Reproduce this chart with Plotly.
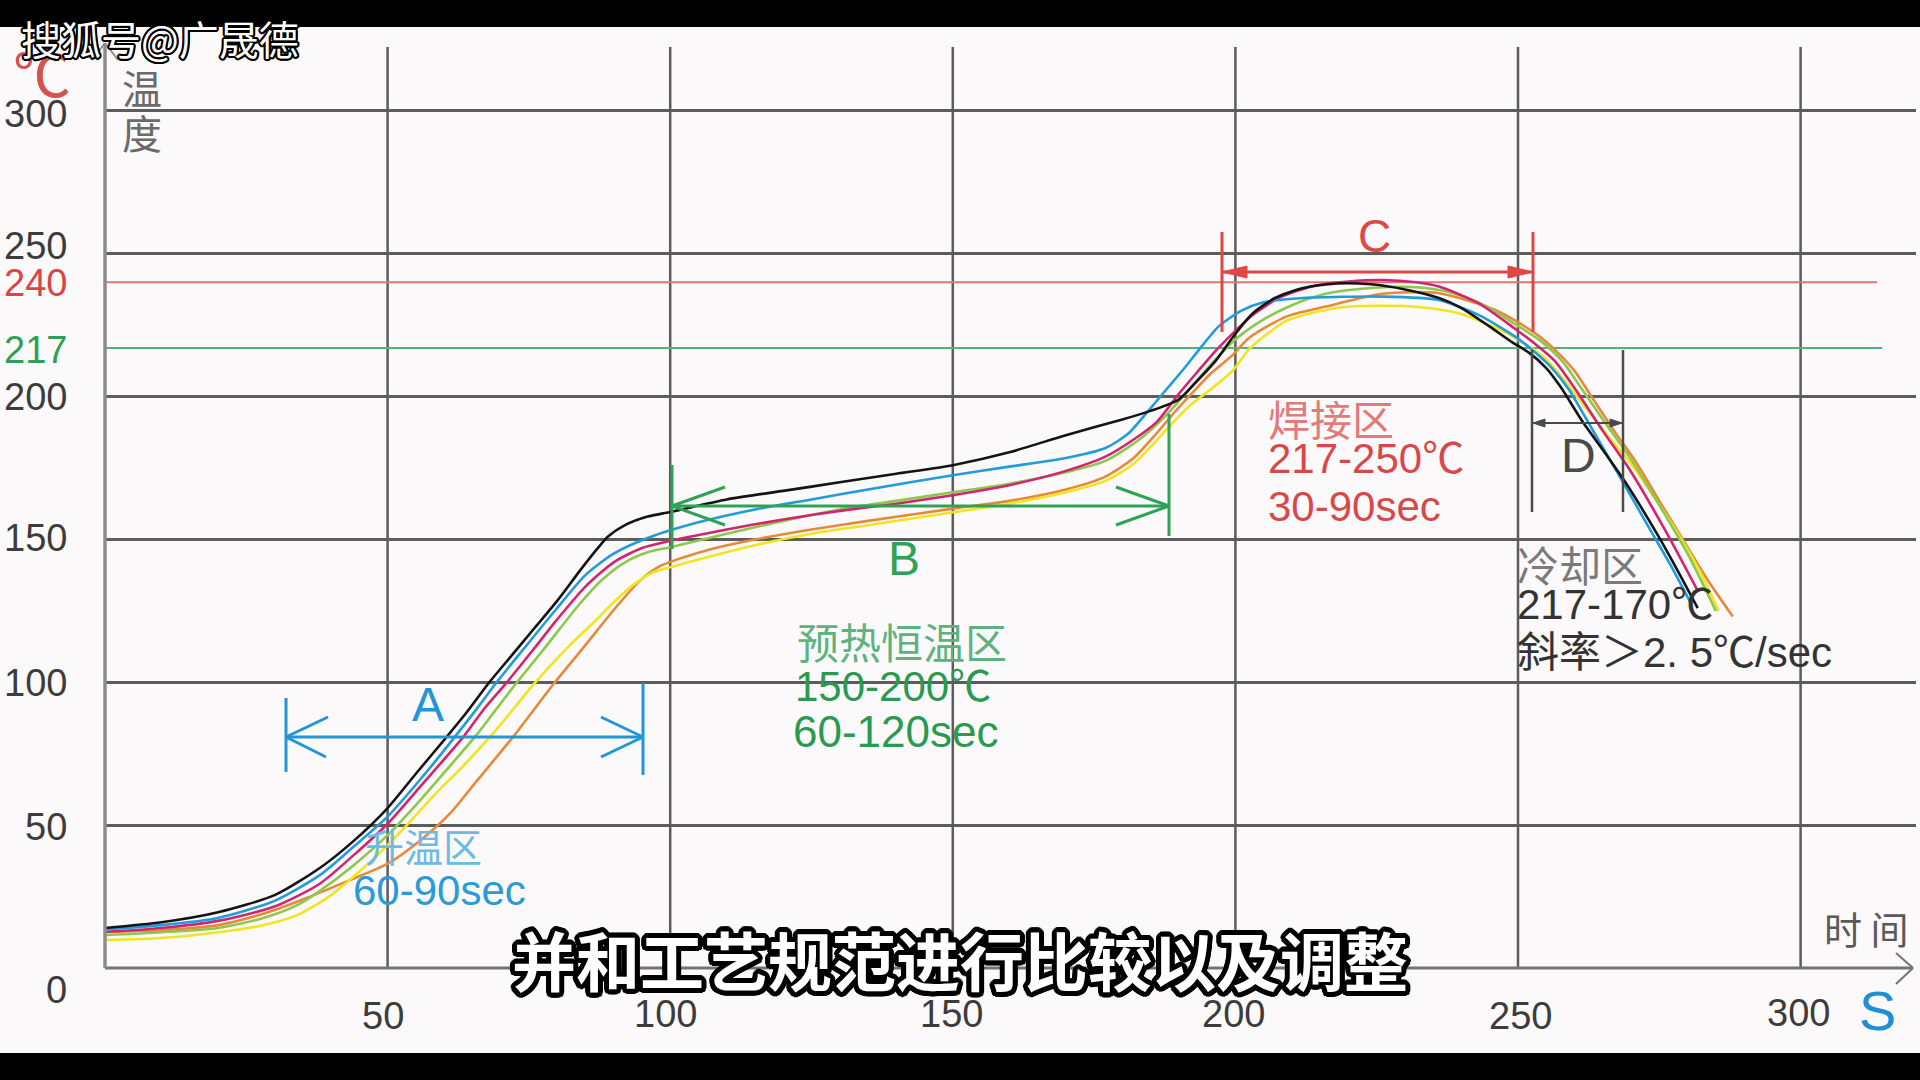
import math
import plotly.graph_objects as go

# ---------------- data (time s -> temperature C) ----------------
black_t = [0, 10, 20, 30, 38, 44, 50, 55, 60.5, 64, 68, 72, 76, 80, 84, 87, 89, 92, 96, 100,
           110, 120, 130, 140, 150, 160, 170, 180, 185, 190, 193, 196.5, 200, 203, 207, 212, 218,
           224, 230, 236, 240, 245, 249, 252, 255, 257.5, 261.5, 265.5, 269, 274.5, 278, 281.8]
black_T = [14, 16, 19.5, 25.5, 35, 44.5, 56, 68, 81, 89.5, 100, 109.5, 119, 128.5, 139, 146.5, 151,
           155, 158, 159.6, 164, 167, 170, 173, 176, 180.5, 186.5, 192, 195, 199, 205, 212.5, 222,
           229, 234.5, 238, 239.6, 239.3, 237.5, 234.5, 231, 224.5, 219, 215.3, 210, 203.5, 191,
           180, 170, 152.3, 140, 126]

blue_t = [0, 10, 20, 30, 38, 44, 50, 56, 61.9, 65.5, 69.3, 74, 80, 85, 90, 96, 105, 115, 125, 135,
          150, 160, 170, 177, 181, 185, 188, 191, 194, 197, 201, 205, 212, 226, 236, 243, 249.5,
          253, 256, 259, 263, 268, 273.5, 277, 280.5]
blue_T = [13.5, 15, 17.5, 23.5, 32.5, 42.5, 53, 66.5, 80.9, 90, 100, 111.5, 126, 137.5, 145, 150.5,
          156, 160.5, 164, 167.5, 172.5, 175.5, 178.5, 182, 187, 196, 203, 210, 217.5, 224.5, 230,
          233, 234.5, 235, 233.8, 228.6, 221, 215.5, 210, 202.5, 189, 172, 153, 141, 128]

pink_t = [0, 10, 20, 30, 38, 44, 50, 56, 63.4, 67, 71.1, 76, 80, 85, 90, 95, 100, 110, 120, 130,
          140, 150, 160, 170, 177, 182, 186, 190, 193, 196.5, 200, 203, 208, 214, 220, 226, 232,
          236, 243, 249.7, 253, 256.5, 260, 265, 269.8, 276.3, 281.8]
pink_T = [12.6, 14, 16.5, 21.5, 29.5, 39.5, 50.5, 64, 80.9, 90.5, 100, 112, 122, 133.5, 142, 147,
          149.5, 153.5, 157, 160, 162.5, 165.5, 169, 174, 179, 185, 191, 201, 208, 216, 223, 228.5,
          234.8, 238.8, 240.3, 240.8, 240, 238.5, 232.7, 223.4, 218.5, 212.5, 203, 188, 174.3,
          152.3, 132]

green_t = [0, 10, 20, 28, 34, 38, 44, 50, 55, 60.5, 65.7, 69, 72.9, 78, 84, 88, 92, 96, 100, 110,
           120, 130, 140, 150, 160, 170, 177, 183, 188, 192, 196, 200, 205, 210, 216, 224, 232, 238,
           244, 249, 254, 258, 261, 265, 270, 275, 280, 285]
green_T = [11.5, 12.5, 14, 17.5, 22, 27, 36, 46.5, 57, 69.5, 81.5, 90, 100, 112.5, 127.5, 136, 142,
           145.5, 147.3, 152, 156.5, 160.5, 163.5, 166.5, 169.5, 173.5, 177.5, 185, 194, 203, 212,
           220, 227, 232, 236, 238, 238.3, 236.5, 232, 226, 219.5, 212, 203.5, 192, 178, 162, 145, 125]

orange_t = [0, 10, 20, 28, 35, 43, 50, 56, 61, 66, 72.2, 79.6, 85, 90, 94.6, 98, 102, 108, 115,
            125, 135, 150, 160, 170, 177, 182, 186, 189, 192, 195.6, 199.5, 202.4, 209, 216, 226,
            236, 246, 253, 257, 260, 263, 267, 271, 275, 279.2, 283.5, 288]
orange_T = [12.6, 13.2, 15, 19, 24, 30.5, 36.5, 45, 54, 66, 80.9, 100, 113, 125.3, 135.5, 140.5,
            143.5, 147, 150, 153.5, 156.5, 160.8, 163.5, 167.5, 172, 178.5, 187, 194, 200.5, 208,
            214.5, 220.5, 228, 231.5, 236, 236.2, 230.3, 222.2, 215.5, 209, 200, 188, 176.7, 163.5,
            149.8, 136, 123]

yellow_t = [0, 10, 20, 28, 34, 40, 46, 50, 53.4, 58, 64, 68.6, 72, 75.7, 82, 87, 90, 93.4, 97,
            100.5, 105, 115, 125, 135, 150, 160, 170, 177, 182, 186, 189, 192, 195.6, 199.5, 202.4,
            206, 209, 214, 219, 226, 232.8, 239.5, 245, 250, 255, 258.5, 262, 266, 270, 274, 278,
            282, 285.5]
yellow_T = [9.8, 10.5, 12.5, 15, 18.5, 25.5, 35.5, 43, 50, 60, 72, 82, 90, 99, 112.5, 122, 128,
            134, 138.5, 140.5, 143, 148, 152, 155, 159.5, 162.5, 166.5, 170.5, 176.5, 184.5, 191,
            197, 202.5, 209, 216.5, 222.5, 226.5, 229.5, 231.3, 231.8, 231.3, 229.2, 225, 220, 213,
            205, 196, 186, 176.5, 165, 153, 139.5, 125]

x_ticks = [50, 100, 150, 200, 250, 300]
y_ticks = [0, 50, 100, 150, 200, 250, 300]
limit_red = 240
limit_green = 217

# ---------------- geometry helpers ----------------
W, H = 1920, 1080
L, R, T, B = 105, 4, 27, 112
PW, PH = W - L - R, H - T - B
XS, YS = 5.652, 2.857
XMAX, YMAX = PW / XS, PH / YS


def dx(px):
    return (px - L) / XS


def dy(py):
    return (H - B - py) / YS


def pxp(px):
    return (px - L) / PW


def pyp(py):
    return (H - B - py) / PH


def outline(r, color, n=16):
    parts = []
    for k in range(n):
        a = 2 * math.pi * k / n
        parts.append(f"{r*math.cos(a):.1f}px {r*math.sin(a):.1f}px 0 {color}")
    return ", ".join(parts)


BG = "#fcf9fb"
GRID = "#5c5c5c"
LAT = "Liberation Sans, Arial, Noto Sans CJK SC, sans-serif"
CJK = "Noto Sans CJK SC, sans-serif"

fig = go.Figure()
series = [
    (orange_t, orange_T, "#e8893a"),
    (yellow_t, yellow_T, "#f0e51e"),
    (green_t, green_T, "#8cc84b"),
    (pink_t, pink_T, "#d5246f"),
    (blue_t, blue_T, "#1f9ddb"),
    (black_t, black_T, "#141414"),
]
for t, v, c in series:
    fig.add_trace(go.Scatter(x=t, y=v, mode="lines",
                             line=dict(color=c, width=2.6, shape="spline", smoothing=0.7),
                             hoverinfo="skip"))

shapes = []
# vertical grid lines
for v in x_ticks:
    shapes.append(dict(type="line", xref="x", yref="y", x0=v, x1=v, y0=0, y1=dy(47),
                       line=dict(color=GRID, width=2.5), layer="below"))
# limit lines
shapes.append(dict(type="line", xref="x", yref="y", x0=0, x1=dx(1877), y0=limit_red, y1=limit_red,
                   line=dict(color="#e57373", width=2), layer="below"))
shapes.append(dict(type="line", xref="x", yref="y", x0=0, x1=dx(1882), y0=limit_green, y1=limit_green,
                   line=dict(color="#4fb477", width=2), layer="below"))
# axes with arrows (paper coords)
AX = "#737373"
shapes += [
    dict(type="line", xref="paper", yref="paper", x0=0, x1=pxp(1913), y0=0, y1=0, line=dict(color=AX, width=3)),
    dict(type="line", xref="paper", yref="paper", x0=pxp(1913), x1=pxp(1896), y0=0, y1=pyp(953), line=dict(color=AX, width=2)),
    dict(type="line", xref="paper", yref="paper", x0=pxp(1913), x1=pxp(1896), y0=0, y1=pyp(984), line=dict(color=AX, width=2)),
    dict(type="line", xref="paper", yref="paper", x0=0, x1=0, y0=0, y1=pyp(43), line=dict(color="#8c8c8c", width=3.5)),
    dict(type="line", xref="paper", yref="paper", x0=0, x1=pxp(118), y0=pyp(43), y1=pyp(60), line=dict(color="#8c8c8c", width=2)),
    dict(type="line", xref="paper", yref="paper", x0=0, x1=pxp(92), y0=pyp(43), y1=pyp(60), line=dict(color="#8c8c8c", width=2)),
]


def seg(x0, y0, x1, y1, color, w):
    return dict(type="line", xref="x", yref="y", x0=x0, y0=y0, x1=x1, y1=y1, line=dict(color=color, width=w))


def tri(pts, color):
    p = "M " + " L ".join(f"{a},{b}" for a, b in pts) + " Z"
    return dict(type="path", xref="x", yref="y", path=p, fillcolor=color, line=dict(color=color, width=1))


# A bracket (blue)
CA = "#2196d6"
ya = dy(737)
shapes += [
    seg(dx(286), ya, dx(643), ya, CA, 3),
    seg(dx(286), dy(698), dx(286), dy(772), CA, 3),
    seg(dx(643), dy(683), dx(643), dy(775), CA, 3),
    seg(dx(286), ya, dx(328), dy(717), CA, 3),
    seg(dx(286), ya, dx(326), dy(757), CA, 3),
    seg(dx(643), ya, dx(601), dy(717), CA, 3),
    seg(dx(643), ya, dx(601), dy(757), CA, 3),
]
# B bracket (green)
CB = "#2ea357"
yb = dy(506)
shapes += [
    seg(dx(672), yb, dx(1169), yb, CB, 3),
    seg(dx(672), dy(465), dx(672), dy(549), CB, 3),
    seg(dx(1169), dy(414), dx(1169), dy(536), CB, 3),
    seg(dx(672), yb, dx(725), dy(487), CB, 3),
    seg(dx(672), yb, dx(725), dy(525), CB, 3),
    seg(dx(1169), yb, dx(1116), dy(487), CB, 3),
    seg(dx(1169), yb, dx(1116), dy(525), CB, 3),
]
# C bracket (red)
CC = "#e04646"
yc = dy(272)
shapes += [
    seg(dx(1222), yc, dx(1533), yc, CC, 3),
    seg(dx(1222), dy(232), dx(1222), dy(332), CC, 3),
    seg(dx(1533), dy(232), dx(1533), dy(332), CC, 3),
    tri([(dx(1222), yc), (dx(1247), dy(266)), (dx(1247), dy(278))], CC),
    tri([(dx(1533), yc), (dx(1508), dy(266)), (dx(1508), dy(278))], CC),
]
# D bracket (dark grey)
CD = "#4a4a4a"
yd = dy(423)
shapes += [
    seg(dx(1532), yd, dx(1623), yd, CD, 2.2),
    seg(dx(1532), dy(350), dx(1532), dy(512), CD, 2.5),
    seg(dx(1623), dy(350), dx(1623), dy(512), CD, 2.5),
    tri([(dx(1533), yd), (dx(1545), dy(419)), (dx(1545), dy(427))], CD),
    tri([(dx(1622), yd), (dx(1610), dy(419)), (dx(1610), dy(427))], CD),
]
# black letterbox bars
shapes += [
    dict(type="rect", xref="paper", yref="paper", x0=pxp(0), x1=pxp(1920), y0=pyp(27), y1=pyp(0),
         fillcolor="#000000", line=dict(width=0), layer="above"),
    dict(type="rect", xref="paper", yref="paper", x0=pxp(0), x1=pxp(1920), y0=pyp(1080), y1=pyp(1053),
         fillcolor="#000000", line=dict(width=0), layer="above"),
]

ann = []


def text(s, cx, cy, size, color, family=LAT, xanchor="center", weight="normal", shadow=None):
    f = dict(size=size, color=color, family=family, weight=weight)
    if shadow:
        f["shadow"] = shadow
    ann.append(dict(text=s, xref="paper", yref="paper", x=pxp(cx), y=pyp(cy), xanchor=xanchor,
                    yanchor="middle", showarrow=False, font=f))


# y tick labels
ycol = {240: "#d94545", 217: "#2e9e58"}
ypos = {300: 114, 250: 246, 240: 283, 217: 350, 200: 397, 150: 538, 100: 683, 50: 827, 0: 990}
for v in y_ticks + [limit_red, limit_green]:
    text(str(v), 69, ypos[v], 38, ycol.get(v, "#3c3c3c"), xanchor="right")
# x tick labels
xpos = {50: (383, 1016), 100: (665, 1014), 150: (951, 1014), 200: (1233, 1014), 250: (1520, 1016), 300: (1798, 1013)}
for v in x_ticks:
    text(str(v), xpos[v][0], xpos[v][1], 38, "#3c3c3c")

# axis titles
text("℃", 42, 72, 58, "#d95050", family=CJK)
text("温", 142, 87, 40, "#6a6a6a", family=CJK)
text("度", 142, 132, 40, "#6a6a6a", family=CJK)
text("时 间", 1866, 927, 38, "#5a5a5a", family=CJK)
text("S", 1877, 1010, 56, "#1f8fd6")

# zone letters
text("A", 428, 704, 48, CA)
text("B", 904, 558, 48, CB)
text("C", 1374, 236, 46, CC)
text("D", 1578, 455, 48, CD)

# zone descriptions
text("升温区", 363, 845, 39, "#6cbbe6", family=CJK, xanchor="left")
text("60-90sec", 351, 890, 42, "#2a9ad8", xanchor="left")
text("预热恒温区", 795, 640, 42, "#5db37e", family=CJK, xanchor="left")
text("150-200℃", 793, 686, 42, "#2a9a50", xanchor="left")
text("60-120sec", 791, 731, 44, "#2a9a50", xanchor="left")
text("焊接区", 1266, 417, 42, "#e27a7a", family=CJK, xanchor="left")
text("217-250℃", 1266, 458, 42, "#d84848", xanchor="left")
text("30-90sec", 1266, 507, 42, "#d84848", xanchor="left")
text("冷却区", 1515, 563, 42, "#7a7a7a", family=CJK, xanchor="left")
text("217-170℃", 1515, 605, 42, "#333333", xanchor="left")
text("斜率＞2. 5℃/sec", 1515, 652, 42, "#333333", xanchor="left")

# overlays (watermark and subtitle)
text("搜狐号@广晟德", 160, 38, 40, "#ffffff", family=CJK, shadow=outline(2, "#000"))
text("并和工艺规范进行比较以及调整", 960, 958, 64, "#ffffff", family=CJK, weight="bold",
     shadow=outline(5, "#000", 24))

fig.update_layout(
    width=W, height=H,
    margin=dict(l=L, r=R, t=T, b=B, pad=0),
    paper_bgcolor=BG, plot_bgcolor=BG,
    showlegend=False,
    xaxis=dict(range=[0, XMAX], showgrid=False, zeroline=False, showticklabels=False,
               showline=False, ticks="", fixedrange=True),
    yaxis=dict(range=[0, YMAX], tickvals=y_ticks[1:], showgrid=True, gridcolor=GRID, gridwidth=2.5,
               zeroline=False, showticklabels=False, showline=False, ticks="", fixedrange=True),
    shapes=shapes,
    annotations=ann,
)

fig.write_html("out.html", config={"displayModeBar": False})
